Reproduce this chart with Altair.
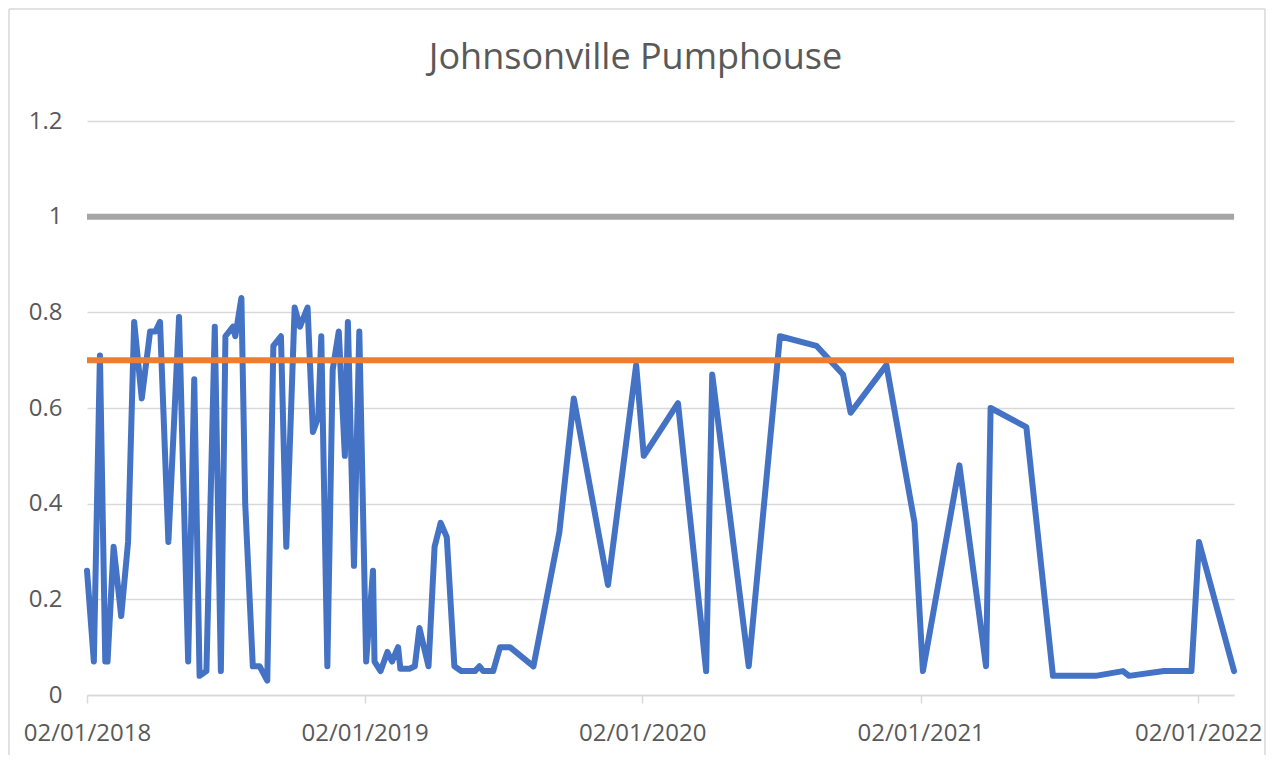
import altair as alt
import pandas as pd

dates = [
    "2018-01-02", "2018-01-11", "2018-01-19", "2018-01-26", "2018-01-29",
    "2018-02-06", "2018-02-16", "2018-02-25", "2018-03-05", "2018-03-15",
    "2018-03-26", "2018-04-02", "2018-04-08", "2018-04-19", "2018-05-03",
    "2018-05-15", "2018-05-23", "2018-05-30", "2018-06-08", "2018-06-19",
    "2018-06-27", "2018-07-03", "2018-07-13", "2018-07-16", "2018-07-24",
    "2018-07-29", "2018-08-08", "2018-08-17", "2018-08-27", "2018-09-04",
    "2018-09-14", "2018-09-21", "2018-10-02", "2018-10-09", "2018-10-19",
    "2018-10-26", "2018-11-02", "2018-11-06", "2018-11-14", "2018-11-21",
    "2018-11-29", "2018-12-07", "2018-12-11", "2018-12-19", "2018-12-26",
    "2019-01-04", "2019-01-13", "2019-01-15", "2019-01-23", "2019-02-01",
    "2019-02-07", "2019-02-15", "2019-02-18", "2019-03-02", "2019-03-09",
    "2019-03-15", "2019-03-27", "2019-04-04", "2019-04-12", "2019-04-20",
    "2019-04-30", "2019-05-09", "2019-05-27", "2019-06-02", "2019-06-07",
    "2019-06-20", "2019-06-29", "2019-07-12", "2019-08-12", "2019-09-15",
    "2019-10-04", "2019-11-18", "2019-12-25", "2020-01-04", "2020-02-18",
    "2020-03-26", "2020-04-03", "2020-05-21", "2020-07-01", "2020-08-18",
    "2020-09-22", "2020-10-02", "2020-11-18", "2020-12-25", "2021-01-05",
    "2021-02-22", "2021-03-29", "2021-04-04", "2021-05-21", "2021-06-25",
    "2021-08-20", "2021-09-25", "2021-10-03", "2021-11-18", "2021-12-24",
    "2022-01-03", "2022-02-18",
]

values = [
    0.26, 0.07, 0.71, 0.07, 0.07,
    0.31, 0.165, 0.32, 0.78, 0.62,
    0.76, 0.76, 0.78, 0.32, 0.79,
    0.07, 0.66, 0.04, 0.05, 0.77,
    0.05, 0.75, 0.77, 0.75, 0.83,
    0.40, 0.06, 0.06, 0.03, 0.73,
    0.75, 0.31, 0.81, 0.77, 0.81,
    0.55, 0.58, 0.75, 0.06, 0.68,
    0.76, 0.50, 0.78, 0.27, 0.76,
    0.07, 0.26, 0.07, 0.05, 0.09,
    0.07, 0.10, 0.055, 0.055, 0.06,
    0.14, 0.06, 0.31, 0.36, 0.33,
    0.06, 0.05, 0.05, 0.06, 0.05,
    0.05, 0.10, 0.10, 0.06, 0.34,
    0.62, 0.23, 0.69, 0.50, 0.61,
    0.05, 0.67, 0.06, 0.75, 0.73,
    0.67, 0.59, 0.69, 0.36, 0.05,
    0.48, 0.06, 0.60, 0.56, 0.04,
    0.04, 0.05, 0.04, 0.05, 0.05,
    0.32, 0.05,
]

upper_limit = 1.0
guideline = 0.7
title_text = "Johnsonville Pumphouse"

y_ticks = [0, 0.2, 0.4, 0.6, 0.8, 1.0, 1.2]
x_tick_years = [2018, 2019, 2020, 2021, 2022]

df = pd.DataFrame({"date": [d + "T00:00:00" for d in dates], "value": values})

W, H = 1147, 574
FONT = "Open Sans"
TXT = "#595959"
GRID = "#D9D9D9"

x_scale = alt.Scale(
    domain=[alt.DateTime(year=2018, month=1, date=2), alt.DateTime(year=2022, month=2, date=18)],
    nice=False,
)
y_scale = alt.Scale(domain=[0, 1.2], nice=False)

base = alt.Chart(df)

line = base.mark_line(color="#4472C4", strokeWidth=6, strokeJoin="round", strokeCap="round").encode(
    x=alt.X(
        "date:T",
        scale=x_scale,
        axis=alt.Axis(
            values=[alt.DateTime(year=y, month=1, date=2) for y in x_tick_years],
            format="%d/%m/%Y",
            title=None,
            grid=False,
            domainColor=GRID,
            domainWidth=1.5,
            tickColor=GRID,
            tickWidth=1.5,
            tickSize=8,
            labelFontSize=24,
            labelFont=FONT,
            labelColor=TXT,
            labelPadding=18,
            labelFlush=False,
            labelOverlap=False,
        ),
    ),
    y=alt.Y(
        "value:Q",
        scale=y_scale,
        axis=alt.Axis(
            values=y_ticks,
            format="~g",
            title=None,
            domain=False,
            ticks=False,
            gridColor=GRID,
            gridWidth=1.5,
            labelFontSize=24,
            labelFont=FONT,
            labelColor=TXT,
            labelPadding=25,
        ),
    ),
)

gray = alt.Chart(pd.DataFrame({"v": [upper_limit]})).mark_rule(color="#A5A5A5", strokeWidth=6).encode(
    y=alt.Y("v:Q", scale=y_scale)
)
orange = alt.Chart(pd.DataFrame({"v": [guideline]})).mark_rule(color="#ED7D31", strokeWidth=6).encode(
    y=alt.Y("v:Q", scale=y_scale)
)

one = pd.DataFrame({"a": [0]})
frame_left = alt.Chart(one).mark_rule(color=GRID, strokeWidth=1.5).encode(
    x=alt.value(-78), y=alt.value(-112), y2=alt.value(H + 60)
)
frame_right = alt.Chart(one).mark_rule(color=GRID, strokeWidth=1.5).encode(
    x=alt.value(W + 31), y=alt.value(-112), y2=alt.value(H + 60)
)
frame_top = alt.Chart(one).mark_rule(color=GRID, strokeWidth=1.5).encode(
    x=alt.value(-78), x2=alt.value(W + 31), y=alt.value(-112)
)
title = alt.Chart(pd.DataFrame({"t": [title_text]})).mark_text(
    font=FONT, fontSize=36, color=TXT, align="center", baseline="alphabetic"
).encode(text="t:N", x=alt.value(548.5), y=alt.value(-52))

chart = (
    alt.layer(line, gray, orange, frame_left, frame_right, frame_top, title)
    .properties(width=W, height=H, padding=0, background="white")
    .configure_view(stroke=None)
)

chart.save("out.html", embed_options={"renderer": "svg", "actions": False})
